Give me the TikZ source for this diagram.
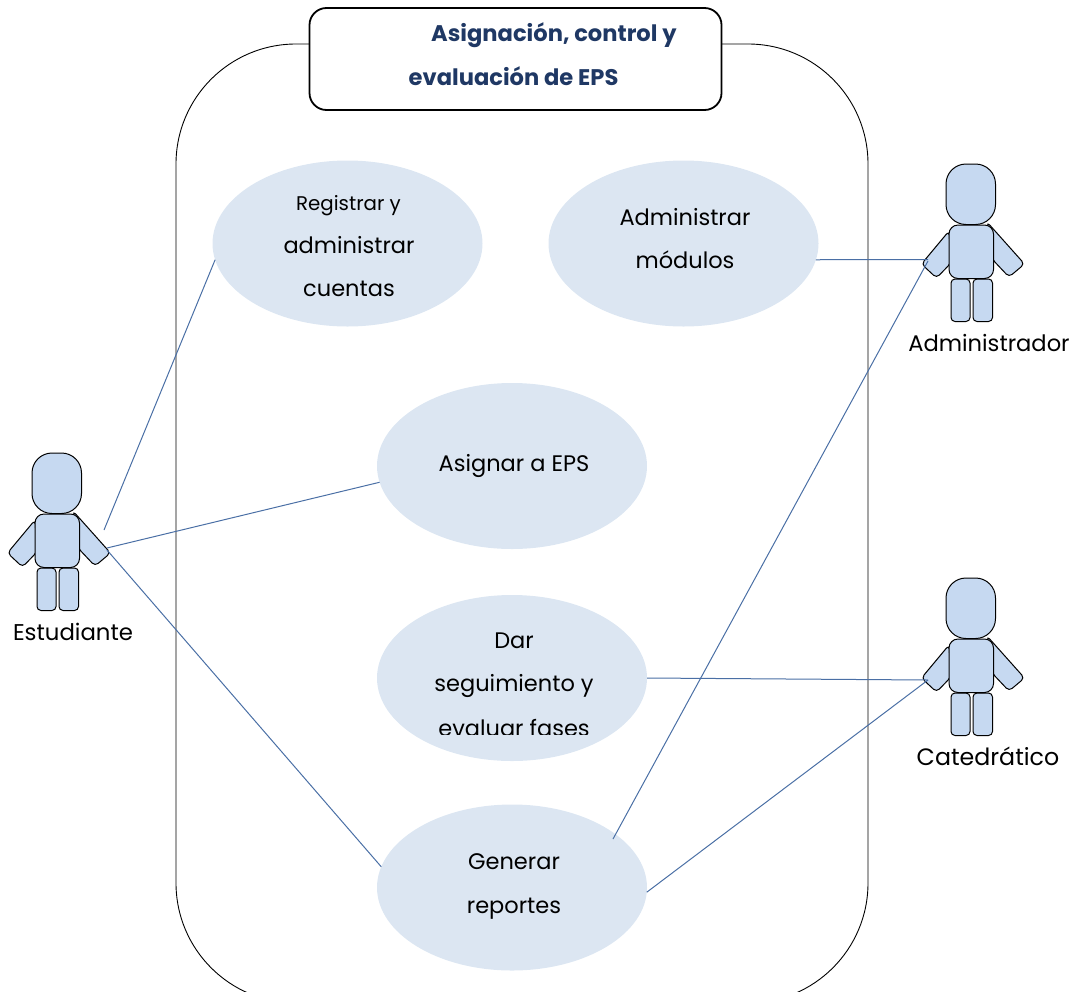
\documentclass[tikz,border=0pt]{standalone}
\usepackage{fontspec}
\setmainfont{Poppins}
\usetikzlibrary{shapes.geometric}
\definecolor{ucfill}{HTML}{DCE6F2}
\definecolor{actfill}{HTML}{C6D9F1}
\definecolor{linkc}{HTML}{4A6FA5}
\definecolor{titlec}{HTML}{1F3864}
\tikzset{
  usecase/.style={ellipse,fill=ucfill,minimum width=270pt,minimum height=166pt,inner sep=0pt,outer sep=0pt},
  link/.style={draw=linkc,line width=1pt},
  lbl/.style={font=\fontsize{22.5}{24}\selectfont,text=black,inner sep=0pt,anchor=base},
  lblsmall/.style={font=\fontsize{19.8}{22}\selectfont,text=black,inner sep=0pt,anchor=base},
  ttl/.style={font=\fontsize{22.6}{24}\selectfont\bfseries,text=titlec,inner sep=0pt,anchor=base west},
  part/.style={draw=black,fill=actfill,line width=1pt,rounded corners=#1},
  actor/.pic={
    \draw[part=4pt] (35,520) -- (7.5,553) -- (22.5,567) -- (37,552) -- cycle;
    \draw[part=4pt] (73,511) -- (110.5,553) -- (95,566) -- (78,548) -- cycle;
    \draw[part=4pt] (37,568) rectangle (56,610.5);
    \draw[part=4pt] (59,568) rectangle (78.5,610.5);
    \draw[part=20pt] (32,453) rectangle (81.5,513.5);
    \draw[part=9pt] (35,514) rectangle (79.5,567.5);
  }
}
\begin{document}
\begin{tikzpicture}[x=1pt,y=-1pt]
\useasboundingbox (0,0) rectangle (1073,991);
\clip (0,0) rectangle (1073,991);
\draw[black,line width=0.9pt,rounded corners=120pt] (176,44) rectangle (868,1003);
\node[draw=black,fill=white,line width=1.8pt,rounded corners=17pt,minimum width=412pt,minimum height=102pt,inner sep=0pt] (title) at (515.5,59) {};
\node[ttl] (t1) at (431,41) {Asignación, control y};
\node[ttl] (t2) at (408.5,85) {evaluación de EPS};

\node[usecase] (reg) at (347.5,243.5) {};
\node[usecase] (adm) at (683.5,243.5) {};
\node[usecase] (asi) at (512,466) {};
\node[usecase] (dar) at (512,678) {};
\node[usecase] (gen) at (512,887.5) {};

\node[lblsmall] (reg1) at (348.5,210.5) {Registrar y};
\node[lbl] (reg2) at (349,253) {administrar};
\node[lbl] (reg3) at (349,296) {cuentas};
\node[lbl] (adm1) at (685,225) {Administrar};
\node[lbl] (adm2) at (685,268) {módulos};
\node[lbl] (asi1) at (514,471) {Asignar a EPS};
\node[lbl] (dar1) at (514,648) {Dar};
\node[lbl] (dar2) at (514,691) {seguimiento y};
\begin{scope}
  \clip (400,700) rectangle (640,734.5);
  \node[lbl] (dar3) at (514,736) {evaluar fases};
\end{scope}
\node[lbl] (gen1) at (514,869) {Generar};
\node[lbl] (gen2) at (514,913) {reportes};

\pic at (0,0) {actor};
\pic at (914,-289) {actor};
\pic at (914,125) {actor};
\coordinate (estA) at (104,530);
\coordinate (estB) at (107,548);
\coordinate (estC) at (107,550);
\coordinate (admA) at (928,259.5);
\coordinate (admB) at (928,261);
\coordinate (catA) at (928,680);
\coordinate (genT) at (613,839);
\node[font=\fontsize{22.8}{24}\selectfont,inner sep=0pt,anchor=base] (estL) at (73,640) {Estudiante};
\node[font=\fontsize{22.6}{24}\selectfont,inner sep=0pt,anchor=base] (admL) at (989,351) {Administrador};
\node[font=\fontsize{23.7}{24}\selectfont,inner sep=0pt,anchor=base] (catL) at (988,765) {Catedrático};

\draw[link] (estA) -- (reg.187.5);
\draw[link] (estB) -- (asi.187.2);
\draw[link] (estC) -- (gen.171.3);
\draw[link] (adm.-7.5) -- (admA);
\draw[link] (genT) -- (admB);
\draw[link] (dar.-0.5) -- (catA);
\draw[link] (gen.-2.5) -- (catA);
\end{tikzpicture}
\end{document}
